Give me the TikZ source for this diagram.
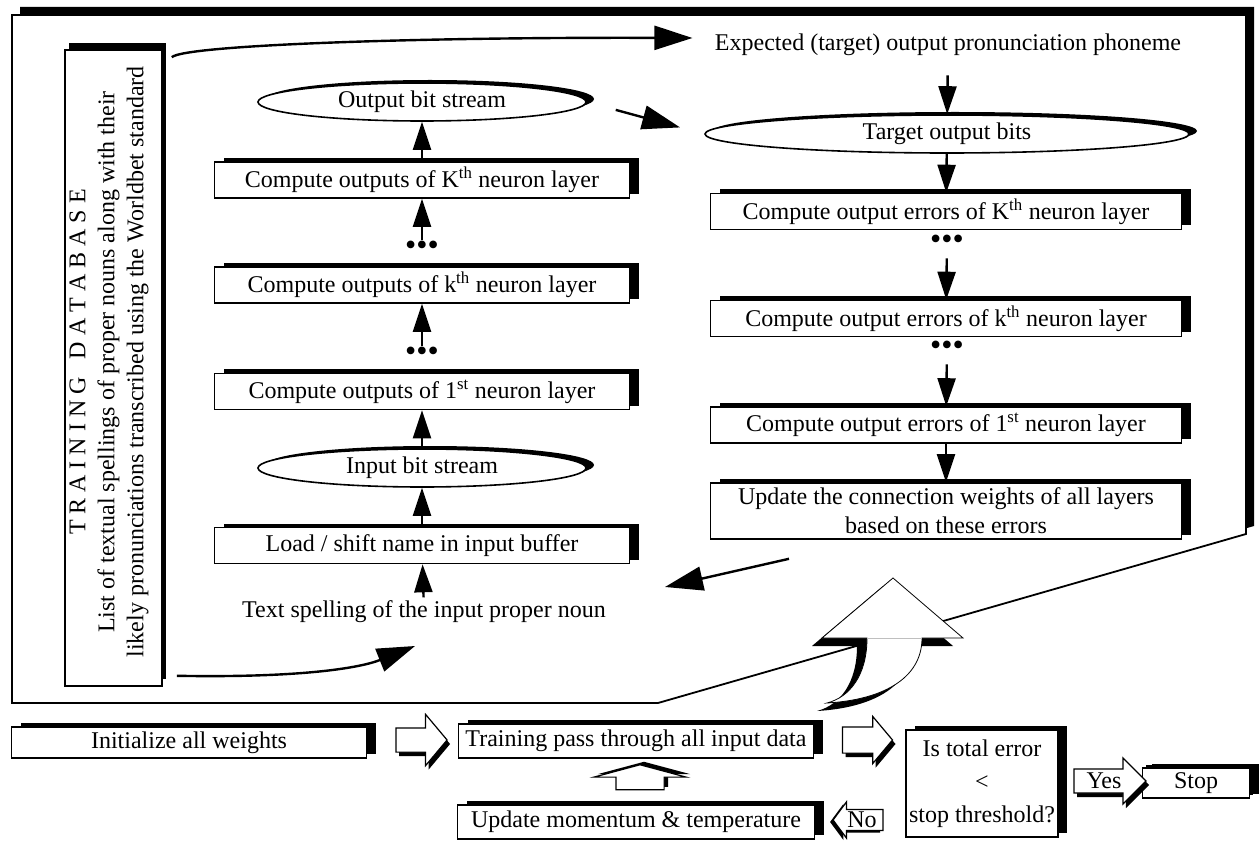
\documentclass[tikz,border=0pt]{standalone}
\usepackage{fontspec}
\setmainfont{Liberation Serif}
\usetikzlibrary{shadows,shapes.geometric,shapes.arrows,arrows.meta}

\begin{document}
\begin{tikzpicture}[x=1pt,y=-1pt,font=\fontsize{24}{29}\selectfont,
  box/.style={draw,fill=white,line width=1.6pt,minimum width=415pt,minimum height=36pt,inner sep=0pt,
    general shadow={fill=black,shadow xshift=9pt,shadow yshift=4pt}},
  ebox/.style={ellipse,draw,fill=white,line width=1.6pt,minimum height=38pt,inner sep=0pt,
    general shadow={fill=black,shadow xshift=8pt,shadow yshift=3pt}},
  arr/.style={line width=2.4pt,-{Triangle[length=28pt,width=18pt]}},
  bigarr/.style={line width=2.4pt,-{Triangle[length=38pt,width=24pt]}},
  blockarr/.style={single arrow,draw,fill=white,line width=1.2pt,inner sep=0pt},
  shdown/.style={general shadow={fill=black,shadow xshift=3pt,shadow yshift=-4pt}},
  dotsnode/.style={inner sep=1pt,font=\fontsize{32}{32}\selectfont}]
\useasboundingbox (0,0) rectangle (1259,842);

% outer frame
\fill[black,xshift=8pt,yshift=8pt] (12,15) -- (1246,15) -- (1246,534) -- (658,703) -- (12,703) -- cycle;
\filldraw[fill=white,line width=1.8pt] (12,15) -- (1246,15) -- (1246,534) -- (658,703) -- (12,703) -- cycle;

% training database
\node[draw,fill=white,line width=1.6pt,minimum width=97pt,minimum height=636pt,
  general shadow={fill=black,shadow xshift=4pt,shadow yshift=7pt}] (db) at (113.5,368) {};
\node[rotate=90,align=center] (dbtext) at (109,362)
  {T R A I N I N G\hspace{0.75em}D A T A B A S E\\
   List of textual spellings of proper nouns along with their\\
   likely pronunciations transcribed using the Worldbet standard};

% forward pass (left)
\node[ebox,minimum width=328pt] (outbits) at (422,102) {Output bit stream};
\node[box] (layerK) at (422,180) {Compute outputs of K\textsuperscript{th} neuron layer};
\node[dotsnode] (dotsL1) at (422,248) {•••};
\node[box] (layerk) at (422,285) {Compute outputs of k\textsuperscript{th} neuron layer};
\node[dotsnode] (dotsL2) at (422,354) {•••};
\node[box] (layer1) at (422,391.5) {Compute outputs of 1\textsuperscript{st} neuron layer};
\node[ebox,minimum width=328pt] (inbits) at (422,468) {Input bit stream};
\node[box] (load) at (422,545.5) {Load / shift name in input buffer};
\node (spelling) at (424,612) {Text spelling of the input proper noun};

\draw[arr] (spelling) -- (load);
\draw[arr] (load) -- (inbits);
\draw[arr] (inbits) -- (layer1);
\draw[arr] (dotsL2) -- (layerk);
\draw[arr] (dotsL1) -- (layerK);
\draw[arr] (layerK) -- (outbits);

% backward pass (right)
\node (expected) at (948,45) {Expected (target) output pronunciation phoneme};
\node[ebox,minimum width=484pt] (tgtbits) at (947,134) {Target output bits};
\node[box,minimum width=471pt] (errK) at (946,211.5) {Compute output errors of K\textsuperscript{th} neuron layer};
\node[dotsnode] (dotsR1) at (947,242) {•••};
\node[box,minimum width=471pt] (errk) at (946,318.5) {Compute output errors of k\textsuperscript{th} neuron layer};
\node[dotsnode] (dotsR2) at (947,348) {•••};
\node[box,minimum width=471pt] (err1) at (946,425) {Compute output errors of 1\textsuperscript{st} neuron layer};
\node[box,minimum width=471pt,minimum height=56pt,align=center] (update) at (946,511)
  {Update the connection weights of all layers\\based on these errors};

\draw[arr,shorten <=16pt] (expected) -- (tgtbits);
\draw[arr] (tgtbits) -- (errK);
\draw[arr,shorten <=8pt] (dotsR1) -- (errk);
\draw[arr,shorten <=8pt] (dotsR2) -- (err1);
\draw[arr] (err1) -- (update);

% links between the two passes
\draw[bigarr] ([shift={(9,8)}]db.north east) .. controls (185,45) and (420,37) .. ([shift={(-19,-7)}]expected.west);
\draw[bigarr] ([shift={(14,-11)}]db.south east) .. controls (300,678) and (360,668) .. ([shift={(-9,34)}]spelling.center);
\draw[bigarr,shorten <=30pt,shorten >=25pt] (outbits.east) -- (tgtbits.west);
\draw[bigarr] ([shift={(-157,19)}]update.south) -- ([shift={(241,-25)}]spelling.center);

% curved return arrow
\fill[black,xshift=-10pt,yshift=-8pt] (893,578) -- (963,638) -- (922,638) .. controls (922,680) and (880,700) .. (827,703)
  .. controls (850,697) and (867,675) .. (867,638) -- (822,638) -- cycle;
\filldraw[fill=white,line width=0.8pt] (893,578) -- (963,638) -- (922,638) .. controls (922,680) and (880,700) .. (827,703)
  .. controls (850,697) and (867,675) .. (867,638) -- (822,638) -- cycle;
\draw[gray!50,line width=0.6pt] (867,638) -- (922,638);

% training loop
\node[box,minimum width=355pt,minimum height=31pt] (init) at (189,742.5) {Initialize all weights};
\node[box,minimum width=355pt,minimum height=34pt] (train) at (636,741) {Training pass through all input data};
\node[box,minimum width=357pt,minimum height=34pt] (momentum) at (636,822) {Update momentum \& temperature};
\node[box,minimum width=152pt,minimum height=107pt,align=center] (decide) at (982,783.5)
  {Is total error\\[4pt]<\\[4pt]stop threshold?};
\node[box,minimum width=107pt,minimum height=30pt,general shadow={fill=black,shadow xshift=3pt,shadow yshift=3pt}] (stop) at (1196,783) {Stop};

\node[blockarr,shdown,minimum height=51pt,inner ysep=11.5pt,single arrow head extend=13.5pt,
  single arrow tip angle=100] (initarr) at (416.5,740) {};
\node[blockarr,shdown,minimum height=50pt,inner ysep=12.5pt,single arrow head extend=10.5pt,
  single arrow tip angle=100] (trainarr) at (862,740) {};
\node[blockarr,rotate=90,minimum height=25pt,inner ysep=23.5pt,single arrow head extend=22pt,
  single arrow tip angle=150,general shadow={fill=black,shadow xshift=4pt,shadow yshift=3pt}] (uparr) at (640,780.5) {};
\node[blockarr,shdown,minimum height=72pt,inner ysep=3.5pt,single arrow head extend=11pt,
  single arrow tip angle=90] (yesarr) at (1104,781) {Yes};
\node[blockarr,shape border rotate=180,minimum height=50pt,inner ysep=2pt,single arrow head extend=7.5pt,
  single arrow tip angle=107,general shadow={fill=black,shadow xshift=-3pt,shadow yshift=-2pt}] (noarr) at (862,820) {No};
\end{tikzpicture}
\end{document}
